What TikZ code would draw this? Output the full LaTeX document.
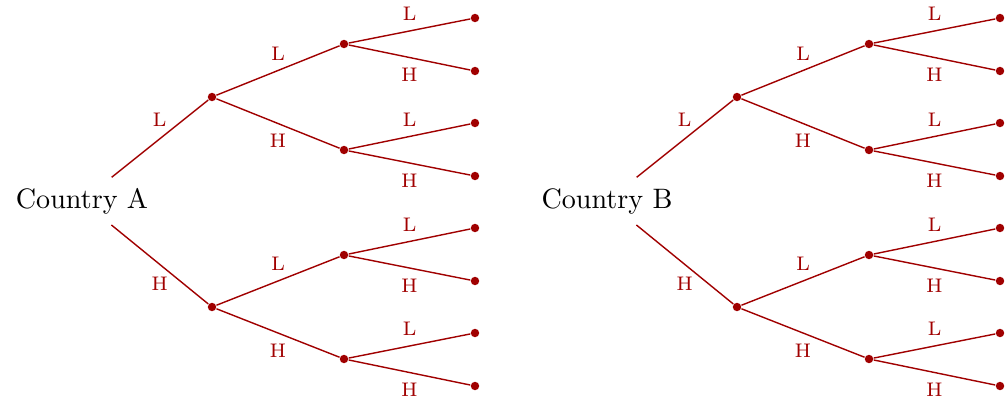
\documentclass[tikz,border=0pt]{standalone}
\definecolor{treered}{RGB}{160,0,0}
\tikzset{
  edge/.style={draw=treered, line width=0.5pt},
  dot/.style={circle, fill=treered, inner sep=0pt, minimum size=3pt},
  lab/.style={text=treered, font=\scriptsize, inner sep=0pt},
  labL/.style={lab, midway, yshift=6.1pt},
  labH/.style={lab, midway, yshift=-6.3pt},
  rootnode/.style={inner sep=0pt, font=\normalsize},
}
\newcommand\mytree[3]{%
\begin{scope}[shift={(#2,0)}]
  \node[rootnode] (#1r) at (82,201) {#3};
  \node[dot] (#1u) at (212,97) {};
  \node[dot] (#1d) at (212,307) {};
  \node[dot] (#1uu) at (344,44) {};
  \node[dot] (#1ud) at (344,150) {};
  \node[dot] (#1du) at (344,255) {};
  \node[dot] (#1dd) at (344,359) {};
  \node[dot] (#1l1) at (475,18) {};
  \node[dot] (#1l2) at (475,71) {};
  \node[dot] (#1l3) at (475,123) {};
  \node[dot] (#1l4) at (475,176) {};
  \node[dot] (#1l5) at (475,228) {};
  \node[dot] (#1l6) at (475,281) {};
  \node[dot] (#1l7) at (475,333) {};
  \node[dot] (#1l8) at (475,386) {};
  \draw[edge, shorten <=13.5pt] (#1r.center) -- node[labL, pos=0.63, xshift=-0.7pt] {L} (#1u);
  \draw[edge, shorten <=13.5pt] (#1r.center) -- node[labH, pos=0.63, xshift=-0.7pt] {H} (#1d);
  \draw[edge] (#1u) -- node[labL] {L} (#1uu);
  \draw[edge] (#1u) -- node[labH] {H} (#1ud);
  \draw[edge] (#1d) -- node[labL] {L} (#1du);
  \draw[edge] (#1d) -- node[labH] {H} (#1dd);
  \draw[edge] (#1uu) -- node[labL] {L} (#1l1);
  \draw[edge] (#1uu) -- node[labH] {H} (#1l2);
  \draw[edge] (#1ud) -- node[labL] {L} (#1l3);
  \draw[edge] (#1ud) -- node[labH] {H} (#1l4);
  \draw[edge] (#1du) -- node[labL] {L} (#1l5);
  \draw[edge] (#1du) -- node[labH] {H} (#1l6);
  \draw[edge] (#1dd) -- node[labL] {L} (#1l7);
  \draw[edge] (#1dd) -- node[labH] {H} (#1l8);
\end{scope}}
\begin{document}
\begin{tikzpicture}[x=0.3556pt, y=-0.3556pt]
  \path[use as bounding box] (0,0) rectangle (1005,402);
  \mytree{a}{0}{Country A}
  \mytree{b}{525}{Country B}
\end{tikzpicture}
\end{document}
